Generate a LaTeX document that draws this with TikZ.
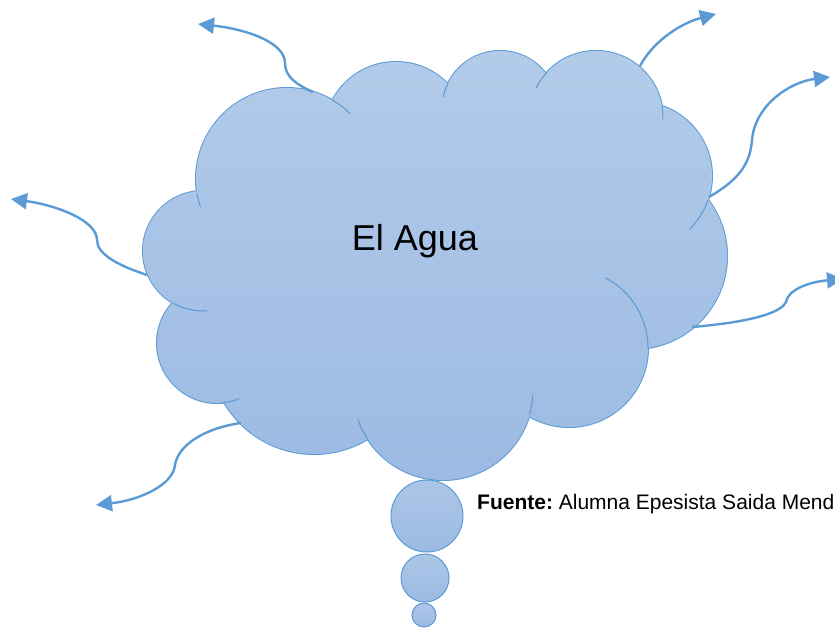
\documentclass[tikz,border=0pt]{standalone}
\usepackage{fontspec}
\setmainfont{Liberation Sans}
\usepackage{xcolor}
\definecolor{colorEdge}{HTML}{5B9BD5}
\definecolor{colorTop}{HTML}{B2CBE9}
\definecolor{colorBottom}{HTML}{9CBAE2}
\usetikzlibrary{arrows.meta, positioning}
\tikzset{cloudline/.style={draw=colorEdge, line width=1pt}}
\tikzset{wavy/.style={->, draw=colorEdge, line width=2.4pt}}
\tikzset{bubble/.style={circle, draw=colorEdge, line width=1pt, top color=colorTop!70!colorBottom, bottom color=colorBottom, inner sep=0pt, outer sep=0pt}}

\begin{document}
\begin{tikzpicture}[x=1pt, y=-1pt, >={Triangle[length=16pt, width=16pt]}]
\useasboundingbox (0,0) rectangle (835,628);
\clip (0,0) rectangle (835,628);
\draw[colorEdge, line width=2pt] (287,179) circle[radius=91] (396,134) circle[radius=72] (500,109) circle[radius=58] (596,118) circle[radius=67] (638,176) circle[radius=74] (634,256) circle[radius=93] (569,348) circle[radius=79] (443,390) circle[radius=90] (314,350) circle[radius=104] (217,343) circle[radius=60] (203,251) circle[radius=60];
\shade[top color=colorTop, bottom color=colorBottom] (287,179) circle[radius=91] (396,134) circle[radius=72] (500,109) circle[radius=58] (596,118) circle[radius=67] (638,176) circle[radius=74] (634,256) circle[radius=93] (569,348) circle[radius=79] (443,390) circle[radius=90] (314,350) circle[radius=104] (217,343) circle[radius=60] (203,251) circle[radius=60] (420,250) circle[radius=110] (560,240) circle[radius=100] (270,300) circle[radius=80];
\draw[cloudline] (287,179) ++(-60:91) arc[start angle=-60, end angle=-46, radius=91];
\draw[cloudline] (287,179) ++(171:91) arc[start angle=171, end angle=162, radius=91];
\draw[cloudline] (203,251) ++(120:60) arc[start angle=120, end angle=86, radius=60];
\draw[cloudline] (217,343) ++(85:60) arc[start angle=85, end angle=68, radius=60];
\draw[cloudline] (443,390) ++(147:90) arc[start angle=147, end angle=161, radius=90];
\draw[cloudline] (443,390) ++(16:90) arc[start angle=16, end angle=3, radius=90];
\draw[cloudline] (569,348) ++(-63:79) arc[start angle=-63, end angle=0, radius=79];
\draw[cloudline] (638,176) ++(19:74) arc[start angle=19, end angle=46, radius=74];
\draw[cloudline] (596,118) ++(-10:67) arc[start angle=-10, end angle=1, radius=67];
\draw[cloudline] (596,118) ++(223:67) arc[start angle=223, end angle=206, radius=67];
\draw[cloudline] (500,109) ++(206:58) arc[start angle=206, end angle=192, radius=58];
\node[font=\fontsize{36}{43}\selectfont, anchor=base] (title) at (415,251) {El Agua};
\node[bubble, minimum size=72pt] (b1) at (427,516) {};
\node[bubble, minimum size=48pt, below=2pt of b1, xshift=-2pt] (b2) {};
\node[bubble, minimum size=24pt, below=1pt of b2, xshift=-1pt] (b3) {};
\node[font=\fontsize{21}{25}\selectfont\frenchspacing, anchor=base west, inner sep=0pt] (fuente) at (477,509) {\textbf{Fuente:} Alumna Epesista Saida Mend};
\coordinate (s1) at (313,92);
\coordinate (w1) at (285,63);
\coordinate (t1) at (198,24);
\coordinate (s2) at (640,66);
\coordinate (t2) at (716,14);
\coordinate (s3) at (709,197);
\coordinate (w3) at (752,140);
\coordinate (t3) at (830,77);
\coordinate (s4) at (692,327);
\coordinate (w4) at (786,302);
\coordinate (t4) at (843,279);
\coordinate (s5) at (147,275);
\coordinate (w5) at (97,240);
\coordinate (t5) at (11,199);
\coordinate (s6) at (241,423);
\coordinate (w6) at (175,465);
\coordinate (t6) at (96,505);
\draw[wavy] (s1) .. controls (295,84) and (285,76) .. (w1) .. controls (285,42) and (245,29) .. (t1);
\draw[wavy] (s2) .. controls (655,38) and (685,22) .. (t2);
\draw[wavy] (s3) .. controls (738,180) and (750,165) .. (w3) .. controls (755,105) and (790,82) .. (t3);
\draw[wavy] (s4) .. controls (740,323) and (780,315) .. (w4) .. controls (788,290) and (808,282) .. (t4);
\draw[wavy] (s5) .. controls (120,266) and (97,255) .. (w5) .. controls (97,220) and (55,205) .. (t5);
\draw[wavy] (s6) .. controls (205,428) and (178,445) .. (w6) .. controls (173,485) and (140,500) .. (t6);
\end{tikzpicture}
\end{document}
